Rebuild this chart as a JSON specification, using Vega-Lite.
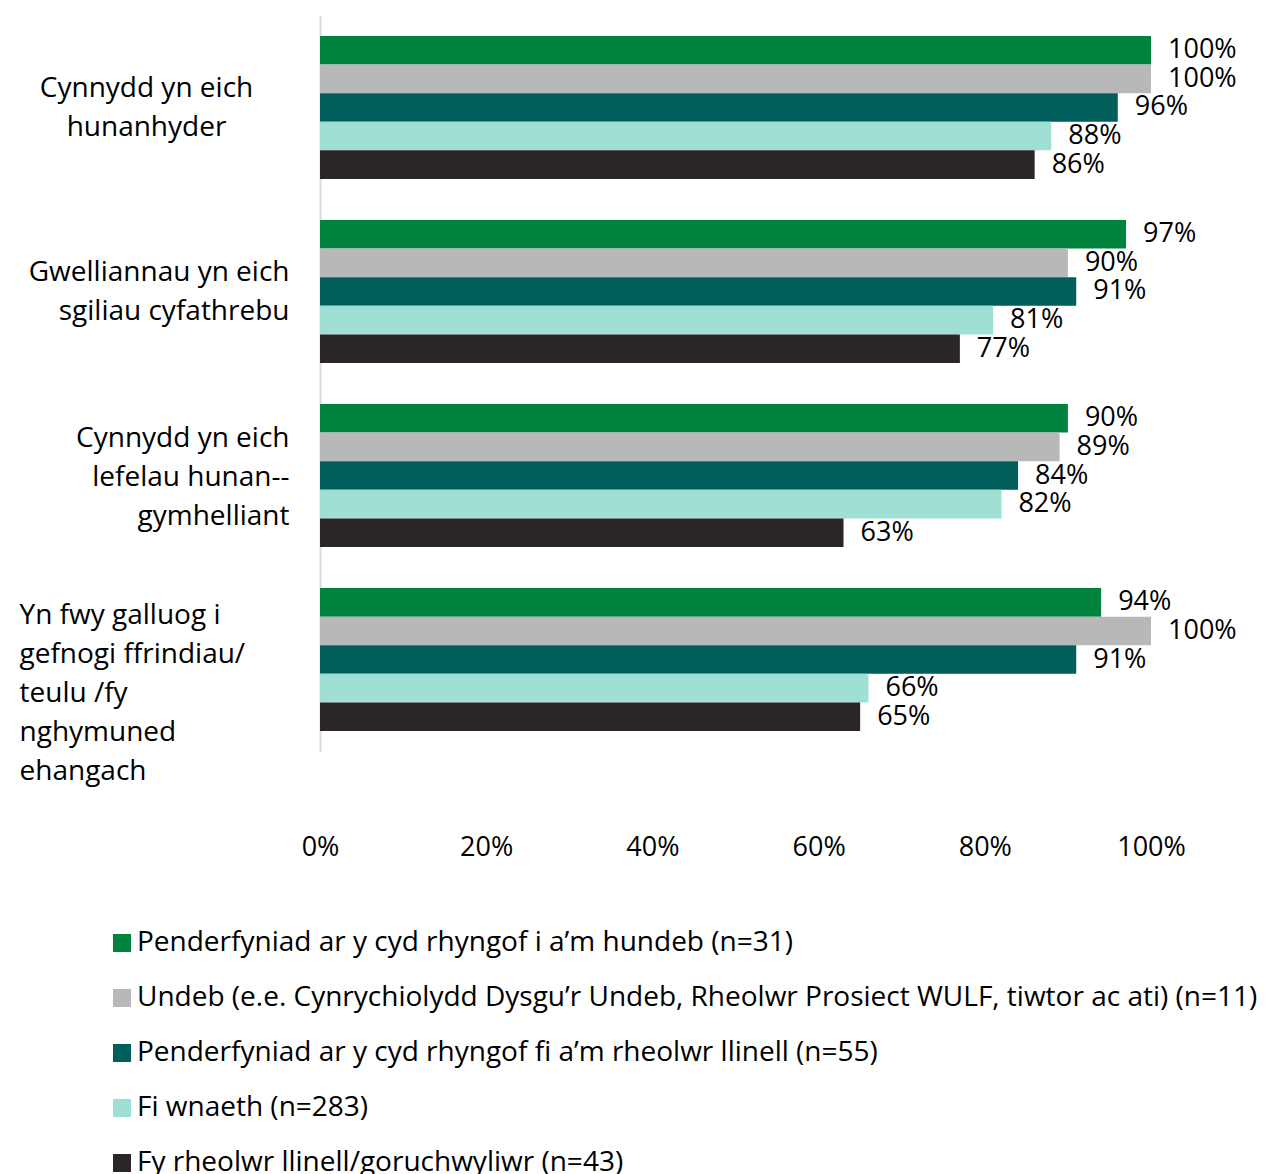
{
  "$schema": "https://vega.github.io/schema/vega-lite/v6.json",
  "autosize": "none",
  "width": 831,
  "height": 737,
  "padding": {"left": 320, "top": 15, "right": 124, "bottom": 422},
  "background": "white",
  "config": {
    "font": "Open Sans",
    "view": {"stroke": null},
    "text": {"font": "Open Sans"}
  },
  "data": {
    "values": [
      {"category": "Cynnydd yn eich\nhunanhyder", "series": "Penderfyniad ar y cyd rhyngof i a’m hundeb (n=31)", "value": 1.00},
      {"category": "Cynnydd yn eich\nhunanhyder", "series": "Undeb (e.e. Cynrychiolydd Dysgu’r Undeb, Rheolwr Prosiect WULF, tiwtor ac ati) (n=11)", "value": 1.00},
      {"category": "Cynnydd yn eich\nhunanhyder", "series": "Penderfyniad ar y cyd rhyngof fi a’m rheolwr llinell (n=55)", "value": 0.96},
      {"category": "Cynnydd yn eich\nhunanhyder", "series": "Fi wnaeth (n=283)", "value": 0.88},
      {"category": "Cynnydd yn eich\nhunanhyder", "series": "Fy rheolwr llinell/goruchwyliwr (n=43)", "value": 0.86},
      {"category": "Gwelliannau yn eich\nsgiliau cyfathrebu", "series": "Penderfyniad ar y cyd rhyngof i a’m hundeb (n=31)", "value": 0.97},
      {"category": "Gwelliannau yn eich\nsgiliau cyfathrebu", "series": "Undeb (e.e. Cynrychiolydd Dysgu’r Undeb, Rheolwr Prosiect WULF, tiwtor ac ati) (n=11)", "value": 0.90},
      {"category": "Gwelliannau yn eich\nsgiliau cyfathrebu", "series": "Penderfyniad ar y cyd rhyngof fi a’m rheolwr llinell (n=55)", "value": 0.91},
      {"category": "Gwelliannau yn eich\nsgiliau cyfathrebu", "series": "Fi wnaeth (n=283)", "value": 0.81},
      {"category": "Gwelliannau yn eich\nsgiliau cyfathrebu", "series": "Fy rheolwr llinell/goruchwyliwr (n=43)", "value": 0.77},
      {"category": "Cynnydd yn eich\nlefelau hunan--\ngymhelliant", "series": "Penderfyniad ar y cyd rhyngof i a’m hundeb (n=31)", "value": 0.90},
      {"category": "Cynnydd yn eich\nlefelau hunan--\ngymhelliant", "series": "Undeb (e.e. Cynrychiolydd Dysgu’r Undeb, Rheolwr Prosiect WULF, tiwtor ac ati) (n=11)", "value": 0.89},
      {"category": "Cynnydd yn eich\nlefelau hunan--\ngymhelliant", "series": "Penderfyniad ar y cyd rhyngof fi a’m rheolwr llinell (n=55)", "value": 0.84},
      {"category": "Cynnydd yn eich\nlefelau hunan--\ngymhelliant", "series": "Fi wnaeth (n=283)", "value": 0.82},
      {"category": "Cynnydd yn eich\nlefelau hunan--\ngymhelliant", "series": "Fy rheolwr llinell/goruchwyliwr (n=43)", "value": 0.63},
      {"category": "Yn fwy galluog i\ngefnogi ffrindiau/\nteulu /fy\nnghymuned\nehangach", "series": "Penderfyniad ar y cyd rhyngof i a’m hundeb (n=31)", "value": 0.94},
      {"category": "Yn fwy galluog i\ngefnogi ffrindiau/\nteulu /fy\nnghymuned\nehangach", "series": "Undeb (e.e. Cynrychiolydd Dysgu’r Undeb, Rheolwr Prosiect WULF, tiwtor ac ati) (n=11)", "value": 1.00},
      {"category": "Yn fwy galluog i\ngefnogi ffrindiau/\nteulu /fy\nnghymuned\nehangach", "series": "Penderfyniad ar y cyd rhyngof fi a’m rheolwr llinell (n=55)", "value": 0.91},
      {"category": "Yn fwy galluog i\ngefnogi ffrindiau/\nteulu /fy\nnghymuned\nehangach", "series": "Fi wnaeth (n=283)", "value": 0.66},
      {"category": "Yn fwy galluog i\ngefnogi ffrindiau/\nteulu /fy\nnghymuned\nehangach", "series": "Fy rheolwr llinell/goruchwyliwr (n=43)", "value": 0.65}
    ]
  },
  "encoding": {
    "y": {
      "field": "category",
      "type": "nominal",
      "sort": null,
      "scale": {"paddingInner": 0.223, "paddingOuter": 0.114},
      "axis": {
        "title": null,
        "domainColor": "#D9D9D9",
        "domainWidth": 2,
        "ticks": false,
        "tickSize": 0,
        "grid": false,
        "labelFont": "Open Sans",
        "labelFontSize": 28,
        "labelColor": "#000000",
        "labelLimit": 0,
        "labelLineHeight": 39,
        "labelBaseline": "middle",
        "labelExpr": "split(datum.label, '\\n')",
        "labelAlign": {
          "condition": [
            {"test": "indexof(datum.value, 'hunanhyder') >= 0", "value": "center"},
            {"test": "indexof(datum.value, 'ehangach') >= 0", "value": "left"}
          ],
          "value": "right"
        },
        "labelPadding": {
          "condition": [
            {"test": "indexof(datum.value, 'hunanhyder') >= 0", "value": 174},
            {"test": "indexof(datum.value, 'ehangach') >= 0", "value": 301}
          ],
          "value": 31
        },
        "labelOffset": {
          "condition": [
            {"test": "indexof(datum.value, 'ehangach') >= 0", "value": -44},
            {"test": "indexof(datum.value, 'gymhelliant') >= 0", "value": -37}
          ],
          "value": -18
        }
      }
    },
    "x": {
      "field": "value",
      "type": "quantitative",
      "scale": {"domain": [0, 1], "nice": false},
      "axis": {
        "title": null,
        "values": [0, 0.2, 0.4, 0.6, 0.8, 1],
        "format": ".0%",
        "domain": false,
        "ticks": false,
        "grid": false,
        "labelFont": "Open Sans",
        "labelFontSize": 27,
        "labelColor": "#000000",
        "labelPadding": 82,
        "labelFlush": false
      }
    },
    "yOffset": {
      "field": "series",
      "type": "nominal",
      "sort": null,
      "scale": {"paddingInner": 0, "paddingOuter": 0}
    }
  },
  "layer": [
    {
      "mark": {"type": "bar"},
      "encoding": {
        "color": {
          "field": "series",
          "type": "nominal",
          "sort": null,
          "scale": {
            "domain": [
              "Penderfyniad ar y cyd rhyngof i a’m hundeb (n=31)",
              "Undeb (e.e. Cynrychiolydd Dysgu’r Undeb, Rheolwr Prosiect WULF, tiwtor ac ati) (n=11)",
              "Penderfyniad ar y cyd rhyngof fi a’m rheolwr llinell (n=55)",
              "Fi wnaeth (n=283)",
              "Fy rheolwr llinell/goruchwyliwr (n=43)"
            ],
            "range": ["#00843D", "#B8B8B8", "#005F5A", "#A0E0D4", "#2B2528"]
          },
          "legend": {
            "title": null,
            "orient": "none",
            "direction": "vertical",
            "legendX": -212,
            "legendY": 914,
            "padding": 0,
            "symbolType": "square",
            "symbolSize": 324,
            "symbolStrokeWidth": 0,
            "symbolOpacity": 1,
            "labelFont": "Open Sans",
            "labelFontSize": 28,
            "labelColor": "#000000",
            "labelLimit": 0,
            "labelOffset": 1,
            "rowPadding": 27
          }
        }
      }
    },
    {
      "mark": {"type": "text", "align": "left", "baseline": "middle", "dx": 17, "fontSize": 27, "font": "Open Sans", "color": "#000000"},
      "encoding": {
        "text": {"field": "value", "type": "quantitative", "format": ".0%"}
      }
    }
  ]
}
